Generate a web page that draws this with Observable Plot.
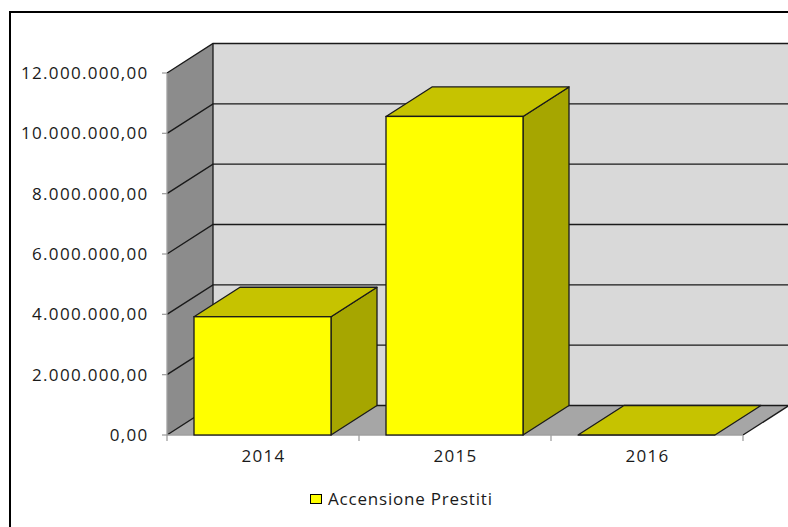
<!DOCTYPE html>
<html><head><meta charset="utf-8">
<script src="https://cdn.jsdelivr.net/npm/d3@7"></script>
<script src="https://cdn.jsdelivr.net/npm/@observablehq/plot@0.6"></script>
<style>
body{margin:0;background:#fff;}
#wrap{position:relative;width:788px;height:527px;overflow:hidden;font-family:"Open Sans";}
#chart{position:absolute;left:0;top:0;}
#frame{position:absolute;left:9px;top:11px;width:800px;height:600px;border-left:2px solid #000;border-top:2px solid #000;pointer-events:none;}
#legend{position:absolute;left:310px;top:487px;font-size:17px;color:#1a1a1a;letter-spacing:0.8px;display:flex;align-items:center;white-space:nowrap;}
#legend .sw{display:inline-block;width:10px;height:8px;border:1.5px solid #000;background:#ff0;margin-right:6px;}
#chart svg text{letter-spacing:1.3px;}
</style></head>
<body><div id="wrap"><div id="chart"></div><div id="frame"></div><div id="legend"><span class="sw"></span><span id="lt"></span></div></div>
<script>
const years = ["2014", "2015", "2016"];
const values = [3920000, 10560000, 0];
const yTicks = [0, 2e6, 4e6, 6e6, 8e6, 10e6, 12e6];
const seriesName = "Accensione Prestiti";

const data = years.map((year, i) => ({year, value: values[i]}));
const DX = 46, DY = -29.5;
const INL = 27, INR = 28;
const fmt = d3.formatLocale({decimal: ",", thousands: ".", grouping: [3], currency: ["€", ""]}).format(",.2f");

function bandInfo(scales) {
  const x = scales.x;
  const bw = x.bandwidth ? x.bandwidth() : (x(years[1]) - x(years[0]));
  return {x, bw};
}

function walls(index, scales, vals, dims) {
  const {x, bw} = bandInfo(scales);
  const y = scales.y;
  const xl = x(years[0]), xr = x(years[years.length - 1]) + bw;
  const y0 = y(0), yt = y(yTicks[yTicks.length - 1]);
  const W = dims.width + 60;
  const g = d3.create("svg:g");
  const poly = (pts, fill) => g.append("path").attr("d", "M" + pts.map(p => p.join(",")).join("L") + "Z").attr("fill", fill);
  poly([[xl + DX, yt + DY], [W, yt + DY], [W, y0 + DY], [xl + DX, y0 + DY]], "#d9d9d9");
  poly([[xl, yt], [xl + DX, yt + DY], [xl + DX, y0 + DY], [xl, y0]], "#8c8c8c");
  poly([[xl, y0], [xr, y0], [xr + DX, y0 + DY], [xl + DX, y0 + DY]], "#a6a6a6");
  for (const t of yTicks) {
    const yy = y(t);
    g.append("path").attr("d", `M${xl},${yy}L${xl + DX},${yy + DY}L${W},${yy + DY}`)
      .attr("fill", "none").attr("stroke", "#1a1a1a").attr("stroke-width", 1.4);
  }
  g.append("path").attr("d", `M${xl + DX},${yt + DY}L${xl + DX},${y0 + DY}`).attr("stroke", "#1a1a1a").attr("stroke-width", 1.3);
  g.append("path").attr("d", `M${xr},${y0}L${xr + DX},${y0 + DY}`).attr("stroke", "#1a1a1a").attr("stroke-width", 1.4);
  g.append("path").attr("d", `M${xl},${yt}L${xl},${y0}L${xr},${y0}`).attr("fill", "none").attr("stroke", "#a0a0a0").attr("stroke-width", 1.3);
  for (const t of yTicks) {
    g.append("path").attr("d", `M${xl - 5},${y(t)}H${xl}`).attr("stroke", "#a0a0a0").attr("stroke-width", 1.3);
  }
  const edges = years.map(v => x(v)).concat([xr]);
  for (const e of edges) {
    g.append("path").attr("d", `M${e},${y0}V${y0 + 6}`).attr("stroke", "#a0a0a0").attr("stroke-width", 1.3);
  }
  return g.node();
}

function barFaces(index, scales, vals, dims) {
  const {x, bw} = bandInfo(scales);
  const y = scales.y;
  const y0 = y(0);
  const g = d3.create("svg:g").attr("stroke", "#1a1a1a").attr("stroke-width", 1.3).attr("stroke-linejoin", "round");
  for (const d of data) {
    const x0 = x(d.year) + INL, x1 = x(d.year) + bw - INR, yv = y(d.value);
    if (d.value > 0) {
      g.append("path").attr("d", `M${x1},${yv}L${x1 + DX},${yv + DY}L${x1 + DX},${y0 + DY}L${x1},${y0}Z`).attr("fill", "#a6a600");
    }
    g.append("path").attr("d", `M${x0},${yv}L${x1},${yv}L${x1 + DX},${yv + DY}L${x0 + DX},${yv + DY}Z`).attr("fill", "#c6c300");
  }
  return g.node();
}

const chart = Plot.plot({
  width: 788,
  height: 527,
  marginLeft: 166,
  marginRight: 44,
  marginTop: 73,
  marginBottom: 92,
  style: {fontFamily: "Open Sans", fontSize: "17px", background: "transparent", color: "#1a1a1a", overflow: "hidden"},
  x: {type: "band", domain: years, padding: 0, label: null},
  y: {domain: [0, 12e6], label: null},
  marks: [
    walls,
    barFaces,
    Plot.barY(data.filter(d => d.value > 0), {x: "year", y: "value", fill: "#ffff00", stroke: "#1a1a1a", strokeWidth: 1.3, insetLeft: INL, insetRight: INR}),
    Plot.axisY(yTicks, {tickFormat: fmt, tickSize: 0, tickPadding: 18, label: null, fill: "#1a1a1a", fontSize: 17}),
    Plot.axisX({tickSize: 0, tickPadding: 14, label: null, fill: "#1a1a1a", fontSize: 17})
  ]
});
document.getElementById("chart").appendChild(chart);
document.getElementById("lt").textContent = seriesName;
</script>
</body></html>
